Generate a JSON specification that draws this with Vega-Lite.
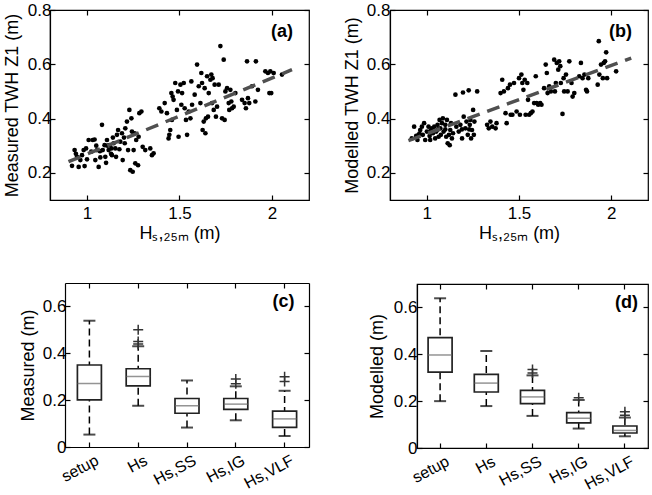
{
  "$schema": "https://vega.github.io/schema/vega-lite/v6.json",
  "padding": {"left": 2, "top": 0, "right": 0, "bottom": 0},
  "background": "white",
  "datasets": {
    "scatterA": [
      {"x":0.919,"y":0.226},{"x":0.933,"y":0.284},{"x":0.946,"y":0.259},{"x":0.955,"y":0.222},{"x":0.964,"y":0.247},{"x":0.973,"y":0.265},{"x":0.982,"y":0.284},{"x":0.987,"y":0.225},{"x":0.995,"y":0.29},{"x":1.009,"y":0.321},
      {"x":1.023,"y":0.278},{"x":1.031,"y":0.321},{"x":1.041,"y":0.323},{"x":1.045,"y":0.247},{"x":1.054,"y":0.284},{"x":1.063,"y":0.222},{"x":1.072,"y":0.257},{"x":1.081,"y":0.377},{"x":1.085,"y":0.284},{"x":1.095,"y":0.302},
      {"x":1.099,"y":0.259},{"x":1.103,"y":0.237},{"x":1.108,"y":0.321},{"x":1.117,"y":0.284},{"x":1.122,"y":0.302},{"x":1.132,"y":0.29},{"x":1.135,"y":0.265},{"x":1.144,"y":0.309},{"x":1.153,"y":0.29},{"x":1.157,"y":0.259},
      {"x":1.162,"y":0.34},{"x":1.168,"y":0.358},{"x":1.175,"y":0.287},{"x":1.18,"y":0.315},{"x":1.189,"y":0.346},{"x":1.193,"y":0.247},{"x":1.204,"y":0.309},{"x":1.207,"y":0.364},{"x":1.216,"y":0.389},{"x":1.222,"y":0.284},
      {"x":1.229,"y":0.432},{"x":1.234,"y":0.21},{"x":1.24,"y":0.401},{"x":1.243,"y":0.352},{"x":1.247,"y":0.204},{"x":1.252,"y":0.284},{"x":1.258,"y":0.346},{"x":1.261,"y":0.235},{"x":1.266,"y":0.321},{"x":1.276,"y":0.228},
      {"x":1.279,"y":0.333},{"x":1.283,"y":0.42},{"x":1.294,"y":0.426},{"x":1.301,"y":0.296},{"x":1.315,"y":0.284},{"x":1.342,"y":0.29},{"x":1.351,"y":0.265},{"x":1.36,"y":0.272},
      {"x":0.94,"y":0.27},{"x":1.0,"y":0.25},{"x":1.05,"y":0.3},{"x":1.11,"y":0.3},{"x":1.14,"y":0.33},{"x":1.2,"y":0.33},{"x":1.07,"y":0.28},{"x":1.13,"y":0.27},
      {"x":1.391,"y":0.438},{"x":1.402,"y":0.426},{"x":1.42,"y":0.457},{"x":1.432,"y":0.42},{"x":1.441,"y":0.327},{"x":1.445,"y":0.34},{"x":1.45,"y":0.358},{"x":1.459,"y":0.395},{"x":1.456,"y":0.494},{"x":1.463,"y":0.481},
      {"x":1.468,"y":0.469},{"x":1.477,"y":0.531},{"x":1.486,"y":0.432},{"x":1.492,"y":0.5},{"x":1.495,"y":0.333},{"x":1.505,"y":0.525},{"x":1.51,"y":0.451},{"x":1.514,"y":0.494},{"x":1.523,"y":0.531},{"x":1.528,"y":0.438},
      {"x":1.535,"y":0.395},{"x":1.541,"y":0.34},{"x":1.55,"y":0.426},{"x":1.559,"y":0.401},{"x":1.564,"y":0.537},{"x":1.568,"y":0.451},{"x":1.582,"y":0.488},{"x":1.595,"y":0.599},{"x":1.604,"y":0.519},{"x":1.613,"y":0.457},
      {"x":1.618,"y":0.568},{"x":1.622,"y":0.531},{"x":1.625,"y":0.358},{"x":1.631,"y":0.389},{"x":1.636,"y":0.512},{"x":1.64,"y":0.346},{"x":1.643,"y":0.401},{"x":1.649,"y":0.556},{"x":1.654,"y":0.407},{"x":1.658,"y":0.494},
      {"x":1.667,"y":0.543},{"x":1.672,"y":0.562},{"x":1.676,"y":0.457},{"x":1.679,"y":0.549},{"x":1.685,"y":0.432},{"x":1.69,"y":0.525},{"x":1.697,"y":0.407},{"x":1.703,"y":0.444},{"x":1.712,"y":0.525},{"x":1.721,"y":0.667},
      {"x":1.73,"y":0.401},{"x":1.739,"y":0.617},{"x":1.744,"y":0.395},{"x":1.748,"y":0.5},{"x":1.757,"y":0.512},{"x":1.766,"y":0.457},{"x":1.769,"y":0.432},{"x":1.775,"y":0.506},{"x":1.78,"y":0.463},{"x":1.784,"y":0.438},
      {"x":1.793,"y":0.444},{"x":1.802,"y":0.494},{"x":1.838,"y":0.469},{"x":1.852,"y":0.457},{"x":1.859,"y":0.438},{"x":1.87,"y":0.475},{"x":1.877,"y":0.457},{"x":1.865,"y":0.611},{"x":1.892,"y":0.519},{"x":1.91,"y":0.463},
      {"x":1.913,"y":0.611},{"x":1.924,"y":0.506},{"x":1.964,"y":0.574},{"x":1.978,"y":0.568},{"x":1.986,"y":0.494},{"x":1.991,"y":0.574},{"x":1.996,"y":0.494},{"x":2.009,"y":0.568},{"x":2.054,"y":0.562}
    ],
    "scatterB": [
      {"x":0.918,"y":0.327},{"x":0.931,"y":0.37},{"x":0.942,"y":0.336},{"x":0.949,"y":0.321},{"x":0.955,"y":0.34},{"x":0.964,"y":0.358},{"x":0.973,"y":0.37},{"x":0.978,"y":0.34},{"x":0.985,"y":0.383},{"x":0.991,"y":0.321},
      {"x":1.0,"y":0.352},{"x":1.009,"y":0.37},{"x":1.015,"y":0.336},{"x":1.018,"y":0.321},{"x":1.027,"y":0.364},{"x":1.033,"y":0.346},{"x":1.04,"y":0.37},{"x":1.045,"y":0.327},{"x":1.051,"y":0.352},{"x":1.058,"y":0.377},
      {"x":1.064,"y":0.333},{"x":1.069,"y":0.395},{"x":1.073,"y":0.364},{"x":1.076,"y":0.34},{"x":1.082,"y":0.383},{"x":1.087,"y":0.401},{"x":1.091,"y":0.352},{"x":1.1,"y":0.377},{"x":1.105,"y":0.333},{"x":1.109,"y":0.395},
      {"x":1.113,"y":0.309},{"x":1.124,"y":0.302},{"x":1.127,"y":0.358},{"x":1.131,"y":0.383},{"x":1.136,"y":0.327},{"x":1.142,"y":0.346},{"x":1.155,"y":0.488},{"x":1.16,"y":0.37},{"x":1.173,"y":0.352},{"x":1.182,"y":0.377},
      {"x":1.191,"y":0.327},{"x":1.196,"y":0.496},{"x":1.2,"y":0.407},{"x":1.209,"y":0.364},{"x":1.215,"y":0.389},{"x":1.222,"y":0.34},{"x":1.227,"y":0.504},{"x":1.233,"y":0.377},{"x":1.236,"y":0.395},{"x":1.24,"y":0.327},
      {"x":1.245,"y":0.358},{"x":1.251,"y":0.432},{"x":1.255,"y":0.34},{"x":1.258,"y":0.389},{"x":1.273,"y":0.5},
      {"x":0.96,"y":0.345},{"x":1.02,"y":0.355},{"x":1.06,"y":0.36},{"x":1.1,"y":0.36},{"x":1.12,"y":0.34},{"x":1.19,"y":0.36},{"x":1.23,"y":0.36},
      {"x":1.327,"y":0.377},{"x":1.336,"y":0.364},{"x":1.345,"y":0.389},{"x":1.355,"y":0.37},{"x":1.373,"y":0.364},{"x":1.378,"y":0.383},{"x":1.4,"y":0.494},{"x":1.409,"y":0.543},{"x":1.418,"y":0.5},{"x":1.427,"y":0.42},
      {"x":1.433,"y":0.383},{"x":1.44,"y":0.512},{"x":1.451,"y":0.525},{"x":1.455,"y":0.414},{"x":1.464,"y":0.414},{"x":1.473,"y":0.531},{"x":1.487,"y":0.426},{"x":1.5,"y":0.549},{"x":1.505,"y":0.414},{"x":1.513,"y":0.562},
      {"x":1.518,"y":0.531},{"x":1.524,"y":0.506},{"x":1.531,"y":0.543},{"x":1.536,"y":0.414},{"x":1.545,"y":0.531},{"x":1.549,"y":0.469},{"x":1.555,"y":0.414},{"x":1.564,"y":0.42},{"x":1.573,"y":0.426},{"x":1.582,"y":0.457},
      {"x":1.591,"y":0.556},{"x":1.596,"y":0.457},{"x":1.604,"y":0.451},{"x":1.615,"y":0.457},{"x":1.622,"y":0.451},{"x":1.636,"y":0.512},{"x":1.645,"y":0.599},{"x":1.651,"y":0.568},{"x":1.655,"y":0.494},{"x":1.664,"y":0.519},
      {"x":1.673,"y":0.5},{"x":1.691,"y":0.617},{"x":1.695,"y":0.5},{"x":1.7,"y":0.531},{"x":1.705,"y":0.605},{"x":1.713,"y":0.58},{"x":1.718,"y":0.611},{"x":1.724,"y":0.593},{"x":1.727,"y":0.531},{"x":1.736,"y":0.417},
      {"x":1.742,"y":0.549},{"x":1.745,"y":0.5},{"x":1.755,"y":0.562},{"x":1.764,"y":0.5},{"x":1.773,"y":0.611},{"x":1.785,"y":0.531},{"x":1.791,"y":0.481},{"x":1.8,"y":0.494},{"x":1.827,"y":0.556},{"x":1.836,"y":0.605},
      {"x":1.845,"y":0.549},{"x":1.855,"y":0.562},{"x":1.864,"y":0.506},{"x":1.869,"y":0.5},{"x":1.876,"y":0.549},{"x":1.927,"y":0.525},{"x":1.933,"y":0.685},{"x":1.936,"y":0.562},{"x":1.945,"y":0.599},{"x":1.955,"y":0.549},
      {"x":1.96,"y":0.605},{"x":1.967,"y":0.611},{"x":1.973,"y":0.644},{"x":1.978,"y":0.549},{"x":2.027,"y":0.574}
    ],
    "fitA": [{"x":0.9,"y":0.241},{"x":2.108,"y":0.58}],
    "fitB": [{"x":0.9,"y":0.319},{"x":2.109,"y":0.623}],
    "boxes": [
      {"panel":"c","cat":"setup","lo":0.053,"q1":0.201,"med":0.271,"q3":0.35,"hi":0.539},
      {"panel":"c","cat":"Hs","lo":0.176,"q1":0.261,"med":0.301,"q3":0.334,"hi":0.43},
      {"panel":"c","cat":"Hs,SS","lo":0.083,"q1":0.144,"med":0.176,"q3":0.207,"hi":0.284},
      {"panel":"c","cat":"Hs,IG","lo":0.114,"q1":0.161,"med":0.183,"q3":0.207,"hi":0.259},
      {"panel":"c","cat":"Hs,VLF","lo":0.047,"q1":0.084,"med":0.12,"q3":0.153,"hi":0.24},
      {"panel":"d","cat":"setup","lo":0.2,"q1":0.324,"med":0.397,"q3":0.471,"hi":0.639},
      {"panel":"d","cat":"Hs","lo":0.179,"q1":0.239,"med":0.277,"q3":0.314,"hi":0.414},
      {"panel":"d","cat":"Hs,SS","lo":0.137,"q1":0.189,"med":0.218,"q3":0.246,"hi":0.31},
      {"panel":"d","cat":"Hs,IG","lo":0.083,"q1":0.107,"med":0.127,"q3":0.151,"hi":0.205},
      {"panel":"d","cat":"Hs,VLF","lo":0.05,"q1":0.064,"med":0.075,"q3":0.094,"hi":0.13}
    ],
    "outliers": [
      {"panel":"c","cat":"Hs","v":0.5},{"panel":"c","cat":"Hs","v":0.45},{"panel":"c","cat":"Hs","v":0.44},
      {"panel":"c","cat":"Hs,IG","v":0.29},{"panel":"c","cat":"Hs,IG","v":0.27},
      {"panel":"c","cat":"Hs,VLF","v":0.3},{"panel":"c","cat":"Hs,VLF","v":0.28},
      {"panel":"d","cat":"Hs,SS","v":0.335},{"panel":"d","cat":"Hs,SS","v":0.32},
      {"panel":"d","cat":"Hs,IG","v":0.215},
      {"panel":"d","cat":"Hs,VLF","v":0.155},{"panel":"d","cat":"Hs,VLF","v":0.14}
    ]
  },
  "columns": 2,
  "align": "none",
  "spacing": {"row": 39, "column": 31},
  "concat": [
    {
      "width": 259, "height": 190,
      "resolve": {"axis": {"x": "independent", "y": "independent"}},
      "layer": [
        {
          "data": {"name": "scatterA"},
          "mark": {"type": "point", "filled": true, "color": "black", "size": 22, "opacity": 1},
          "encoding": {
            "x": {"field": "x", "type": "quantitative", "scale": {"domain": [0.8, 2.2], "nice": false, "zero": false},
                  "axis": {"orient": "bottom", "values": [1, 1.5, 2], "labelExpr": "datum.value", "title": "Hₛ,₂₅ₘ (m)", "labelPadding": 10, "titlePadding": 3}},
            "y": {"field": "y", "type": "quantitative", "scale": {"domain": [0.1, 0.8], "nice": false, "zero": false},
                  "axis": {"orient": "left", "values": [0.2, 0.4, 0.6, 0.8], "labelExpr": "datum.value", "title": "Measured TWH Z1 (m)", "labelPadding": 4, "titlePadding": 6}}
          }
        },
        {
          "data": {"name": "scatterA"},
          "mark": {"type": "point", "opacity": 0, "size": 1},
          "encoding": {
            "x": {"field": "x", "type": "quantitative", "axis": {"orient": "top", "values": [1, 1.5, 2], "labels": false, "title": null, "domain": false, "minExtent": 0, "maxExtent": 0}},
            "y": {"field": "y", "type": "quantitative", "axis": {"orient": "right", "values": [0.2, 0.4, 0.6, 0.8], "labels": false, "title": null, "domain": false, "minExtent": 0, "maxExtent": 0}}
          }
        },
        {
          "data": {"name": "fitA"},
          "mark": {"type": "line", "strokeDash": [13, 8], "strokeWidth": 3.5, "color": "#505050"},
          "encoding": {"x": {"field": "x", "type": "quantitative", "axis": null}, "y": {"field": "y", "type": "quantitative", "axis": null}}
        },
        {
          "data": {"values": [{"label": "(a)"}]},
          "mark": {"type": "text", "fontWeight": "bold", "fontSize": 18, "align": "right", "baseline": "middle", "color": "black"},
          "encoding": {"text": {"field": "label"}, "x": {"datum": 2.113, "axis": null}, "y": {"datum": 0.72, "axis": null}}
        }
      ]
    },
    {
      "width": 258, "height": 190,
      "resolve": {"axis": {"x": "independent", "y": "independent"}},
      "layer": [
        {
          "data": {"name": "scatterB"},
          "mark": {"type": "point", "filled": true, "color": "black", "size": 22, "opacity": 1},
          "encoding": {
            "x": {"field": "x", "type": "quantitative", "scale": {"domain": [0.8, 2.2], "nice": false, "zero": false},
                  "axis": {"orient": "bottom", "values": [1, 1.5, 2], "labelExpr": "datum.value", "title": "Hₛ,₂₅ₘ (m)", "labelPadding": 10, "titlePadding": 3}},
            "y": {"field": "y", "type": "quantitative", "scale": {"domain": [0.1, 0.8], "nice": false, "zero": false},
                  "axis": {"orient": "left", "values": [0.2, 0.4, 0.6, 0.8], "labelExpr": "datum.value", "title": "Modelled TWH Z1 (m)", "labelPadding": 5, "titlePadding": 5}}
          }
        },
        {
          "data": {"name": "scatterB"},
          "mark": {"type": "point", "opacity": 0, "size": 1},
          "encoding": {
            "x": {"field": "x", "type": "quantitative", "axis": {"orient": "top", "values": [1, 1.5, 2], "labels": false, "title": null, "domain": false, "minExtent": 0, "maxExtent": 0}},
            "y": {"field": "y", "type": "quantitative", "axis": {"orient": "right", "values": [0.2, 0.4, 0.6, 0.8], "labels": false, "title": null, "domain": false, "minExtent": 0, "maxExtent": 0}}
          }
        },
        {
          "data": {"name": "fitB"},
          "mark": {"type": "line", "strokeDash": [13, 8], "strokeWidth": 3.5, "color": "#505050"},
          "encoding": {"x": {"field": "x", "type": "quantitative", "axis": null}, "y": {"field": "y", "type": "quantitative", "axis": null}}
        },
        {
          "data": {"values": [{"label": "(b)"}]},
          "mark": {"type": "text", "fontWeight": "bold", "fontSize": 18, "align": "right", "baseline": "middle", "color": "black"},
          "encoding": {"text": {"field": "label"}, "x": {"datum": 2.113, "axis": null}, "y": {"datum": 0.72, "axis": null}}
        }
      ]
    },
    {
      "width": 259, "height": 164,
      "view": {"stroke": null},
      "data": {"name": "boxes"},
      "transform": [{"filter": "datum.panel === 'c'"}],
      "resolve": {"axis": {"x": "independent", "y": "independent"}},
      "encoding": {
        "x": {"field": "cat", "type": "nominal", "scale": {"domain": ["setup", "Hs", "Hs,SS", "Hs,IG", "Hs,VLF"], "range": [15, 259], "paddingInner": 0, "paddingOuter": 0}, "axis": null}
      },
      "layer": [
        {
          "mark": {"type": "rule", "strokeDash": [7, 4], "strokeWidth": 1.5, "color": "black"},
          "encoding": {
            "x": {"field": "cat", "type": "nominal", "axis": {"orient": "bottom", "title": null, "labelAngle": -28, "labelAlign": "right", "labelBaseline": "middle", "labelPadding": 17, "labelOffset": 8, "labelFontSize": 16}},
            "y": {"field": "lo", "type": "quantitative", "scale": {"domain": [0, 0.7], "nice": false},
                  "axis": {"orient": "left", "offset": -15, "values": [0, 0.2, 0.4, 0.6], "labelExpr": "datum.value", "title": "Measured (m)", "labelPadding": 4, "titlePadding": 5}},
            "y2": {"field": "hi"}
          }
        },
        {
          "mark": {"type": "point", "opacity": 0, "size": 1},
          "encoding": {
            "x": {"field": "cat", "type": "nominal", "axis": {"orient": "top", "labels": false, "title": null, "domain": true, "minExtent": 0, "maxExtent": 0}},
            "y": {"field": "lo", "type": "quantitative", "axis": {"orient": "right", "values": [0, 0.2, 0.4, 0.6], "labels": false, "title": null, "domain": true, "minExtent": 0, "maxExtent": 0}}
          }
        },
        {"mark": {"type": "tick", "size": 12, "thickness": 2, "color": "black"}, "encoding": {"y": {"field": "lo", "type": "quantitative", "axis": null}}},
        {"mark": {"type": "tick", "size": 12, "thickness": 2, "color": "black"}, "encoding": {"y": {"field": "hi", "type": "quantitative", "axis": null}}},
        {"mark": {"type": "bar", "size": 24, "fill": "white", "stroke": "#222222", "strokeWidth": 1.7}, "encoding": {"y": {"field": "q1", "type": "quantitative", "axis": null}, "y2": {"field": "q3"}}},
        {"mark": {"type": "tick", "size": 24, "thickness": 1.5, "color": "#666666"}, "encoding": {"y": {"field": "med", "type": "quantitative", "axis": null}}},
        {
          "data": {"name": "outliers"},
          "transform": [{"filter": "datum.panel === 'c'"}],
          "mark": {"type": "point", "shape": "M-1,0H1M0,-1V1", "filled": false, "size": 100, "strokeWidth": 1.5, "color": "#333333", "opacity": 1},
          "encoding": {"y": {"field": "v", "type": "quantitative", "axis": null}}
        },
        {
          "data": {"values": [{"label": "(c)"}]},
          "mark": {"type": "text", "fontWeight": "bold", "fontSize": 18, "align": "right", "baseline": "middle", "dx": 10, "color": "black"},
          "encoding": {"text": {"field": "label"}, "x": {"datum": "Hs,VLF", "axis": null}, "y": {"datum": 0.617, "axis": null}}
        }
      ]
    },
    {
      "width": 231, "height": 164,
      "data": {"name": "boxes"},
      "transform": [{"filter": "datum.panel === 'd'"}],
      "resolve": {"axis": {"x": "independent", "y": "independent"}},
      "encoding": {
        "x": {"field": "cat", "type": "nominal", "scale": {"domain": ["setup", "Hs", "Hs,SS", "Hs,IG", "Hs,VLF"], "paddingInner": 0, "paddingOuter": 0}, "axis": null}
      },
      "layer": [
        {
          "mark": {"type": "rule", "strokeDash": [7, 4], "strokeWidth": 1.5, "color": "black"},
          "encoding": {
            "x": {"field": "cat", "type": "nominal", "axis": {"orient": "bottom", "title": null, "labelAngle": -28, "labelAlign": "right", "labelBaseline": "middle", "labelPadding": 17, "labelOffset": 8, "labelFontSize": 16}},
            "y": {"field": "lo", "type": "quantitative", "scale": {"domain": [0, 0.7], "nice": false},
                  "axis": {"orient": "left", "values": [0, 0.2, 0.4, 0.6], "labelExpr": "datum.value", "title": ["", "Modelled (m)"], "titleLineHeight": 25, "labelPadding": 5, "titlePadding": 7}},
            "y2": {"field": "hi"}
          }
        },
        {
          "mark": {"type": "point", "opacity": 0, "size": 1},
          "encoding": {
            "x": {"field": "cat", "type": "nominal", "axis": {"orient": "top", "labels": false, "title": null, "domain": false, "minExtent": 0, "maxExtent": 0}},
            "y": {"field": "lo", "type": "quantitative", "axis": {"orient": "right", "values": [0, 0.2, 0.4, 0.6], "labels": false, "title": null, "domain": false, "minExtent": 0, "maxExtent": 0}}
          }
        },
        {"mark": {"type": "tick", "size": 12, "thickness": 2, "color": "black"}, "encoding": {"y": {"field": "lo", "type": "quantitative", "axis": null}}},
        {"mark": {"type": "tick", "size": 12, "thickness": 2, "color": "black"}, "encoding": {"y": {"field": "hi", "type": "quantitative", "axis": null}}},
        {"mark": {"type": "bar", "size": 24, "fill": "white", "stroke": "#222222", "strokeWidth": 1.7}, "encoding": {"y": {"field": "q1", "type": "quantitative", "axis": null}, "y2": {"field": "q3"}}},
        {"mark": {"type": "tick", "size": 24, "thickness": 1.5, "color": "#666666"}, "encoding": {"y": {"field": "med", "type": "quantitative", "axis": null}}},
        {
          "data": {"name": "outliers"},
          "transform": [{"filter": "datum.panel === 'd'"}],
          "mark": {"type": "point", "shape": "M-1,0H1M0,-1V1", "filled": false, "size": 100, "strokeWidth": 1.5, "color": "#333333", "opacity": 1},
          "encoding": {"y": {"field": "v", "type": "quantitative", "axis": null}}
        },
        {
          "data": {"values": [{"label": "(d)"}]},
          "mark": {"type": "text", "fontWeight": "bold", "fontSize": 18, "align": "right", "baseline": "middle", "dx": 13, "color": "black"},
          "encoding": {"text": {"field": "label"}, "x": {"datum": "Hs,VLF", "axis": null}, "y": {"datum": 0.617, "axis": null}}
        }
      ]
    }
  ],
  "config": {
    "font": "Liberation Sans",
    "view": {"stroke": "black", "strokeWidth": 1.2},
    "axis": {
      "grid": false, "domainColor": "black", "domainWidth": 1.2, "tickColor": "black", "tickSize": -5, "tickWidth": 1.2,
      "labelColor": "black", "titleColor": "black", "labelFontSize": 17, "titleFontSize": 18, "titleFontWeight": "normal",
      "labelFont": "Liberation Sans", "titleFont": "Liberation Sans"
    }
  }
}
